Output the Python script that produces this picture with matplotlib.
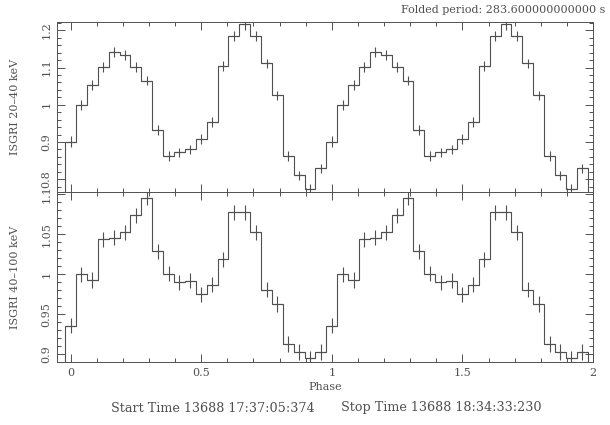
from matplotlib import pyplot as plt
from matplotlib.ticker import MultipleLocator, FuncFormatter
import numpy as np

# folded light curve, 24 phase bins per cycle (plotted twice)
n_bins = 24
rate_20_40 = [0.901, 0.999, 1.054, 1.101, 1.142, 1.133, 1.101, 1.065,
              0.932, 0.862, 0.872, 0.880, 0.908, 0.954, 1.104, 1.185,
              1.216, 1.185, 1.111, 1.025, 0.862, 0.810, 0.774, 0.829]
err_20_40 = [0.014, 0.013, 0.013, 0.013, 0.013, 0.013, 0.013, 0.013,
             0.013, 0.013, 0.013, 0.013, 0.013, 0.013, 0.013, 0.013,
             0.014, 0.013, 0.013, 0.013, 0.013, 0.013, 0.013, 0.013]
rate_40_100 = [0.936, 1.000, 0.993, 1.044, 1.046, 1.0525, 1.074, 1.096,
               1.029, 1.001, 0.990, 0.992, 0.975, 0.987, 1.019, 1.0775,
               1.0775, 1.0525, 0.981, 0.963, 0.913, 0.903, 0.895, 0.903]
err_40_100 = [0.0095] * 24

top_text = 'Folded period: 283.600000000000 s'
start_text = 'Start Time 13688 17:37:05:374'
stop_text = 'Stop Time 13688 18:34:33:230'

FG = '#505050'
plt.rcParams['font.family'] = ['DejaVu Serif']
plt.rcParams['font.size'] = 8

fig = plt.figure(figsize=(6.1, 4.25), dpi=100)
ax1 = fig.add_axes([0.0939, 0.5475, 0.8783, 0.4015])
ax2 = fig.add_axes([0.0939, 0.1482, 0.8783, 0.3993])

edges = (np.arange(2 * n_bins + 1) - 0.5) / n_bins
centers = np.arange(2 * n_bins) / n_bins
fmt = FuncFormatter(lambda v, p: '%g' % round(v, 3))


def draw_panel(ax, rate, err, ylim, major, minor, label):
    vals = np.array(rate + rate)
    errs = np.array(err + err)
    ax.stairs(vals, edges, color=FG, lw=0.8)
    ax.errorbar(centers, vals, yerr=errs, xerr=0.5 / n_bins, fmt='none',
                ecolor=FG, elinewidth=0.8, capsize=0)
    ax.set_xlim(-0.051, 2.0)
    ax.set_ylim(*ylim)
    ax.xaxis.set_major_locator(MultipleLocator(0.5))
    ax.xaxis.set_minor_locator(MultipleLocator(0.1))
    ax.yaxis.set_major_locator(MultipleLocator(major))
    ax.yaxis.set_minor_locator(MultipleLocator(minor))
    ax.xaxis.set_major_formatter(fmt)
    ax.yaxis.set_major_formatter(fmt)
    ax.tick_params(which='both', direction='in', top=True, right=True,
                   color=FG, labelcolor=FG, width=0.7)
    ax.tick_params(which='major', length=6)
    ax.tick_params(which='minor', length=3)
    ax.tick_params(axis='y', pad=4)
    ax.tick_params(axis='x', pad=4)
    for s in ax.spines.values():
        s.set_color(FG)
        s.set_linewidth(0.7)
    pos = ax.get_position()
    fig.text(15 / 610, pos.y0 + pos.height / 2, label, rotation=90,
             ha='center', va='center', color=FG)


draw_panel(ax1, rate_20_40, err_20_40, (0.7646, 1.2234), 0.1, 0.02, 'ISGRI 20–40 keV')
draw_panel(ax2, rate_40_100, err_40_100, (0.8904, 1.1025), 0.05, 0.01, 'ISGRI 40–100 keV')
ax1.tick_params(labelbottom=False)
ax2.set_xlabel('Phase', color=FG, labelpad=3)

for ax in (ax1, ax2):
    for lab in ax.get_yticklabels():
        lab.set_rotation(90)
        lab.set_va('center')

fig.text(605 / 610, 1 - 10 / 425, top_text, ha='right', va='center', color=FG)
fig.text(315 / 610, 1 - 408 / 425, start_text, ha='right', va='center',
         color=FG, fontsize=9.2)
fig.text(341 / 610, 1 - 408 / 425, stop_text, ha='left', va='center',
         color=FG, fontsize=9.2)

plt.savefig('out.png', dpi=100)
